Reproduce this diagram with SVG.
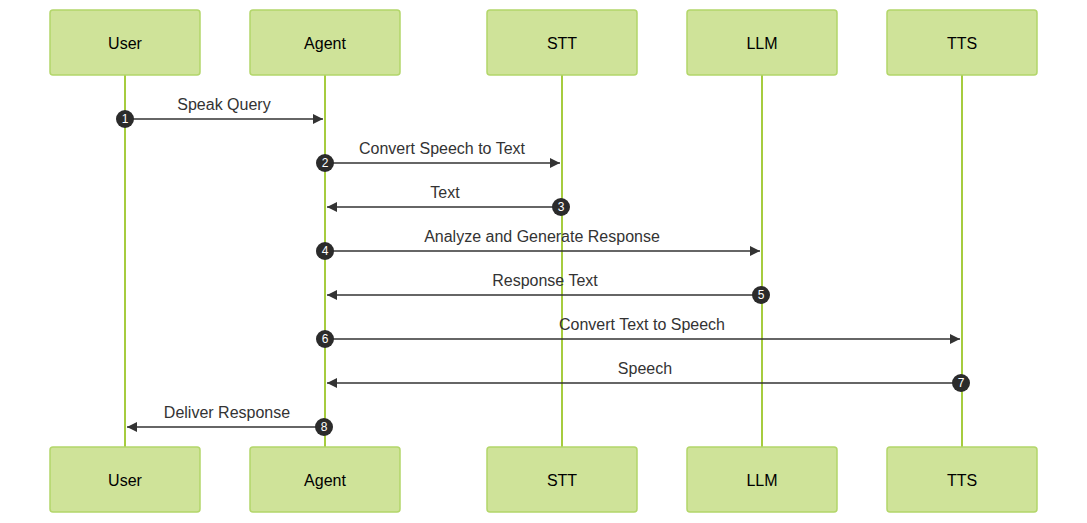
<svg xmlns="http://www.w3.org/2000/svg" width="1087" height="523" viewBox="0 0 1087 523">
<style>
.box{fill:#cfe399;stroke:#b3d66a;stroke-width:1.5}
.life{stroke:#a6cc3f;stroke-width:2}
.t{font-family:"Liberation Sans",Arial,sans-serif;font-size:16px;fill:#000;text-anchor:middle}
.l{font-family:"Liberation Sans",Arial,sans-serif;font-size:16px;fill:#333;text-anchor:middle}
.m{stroke:#333;stroke-width:1.5;fill:none;marker-end:url(#a)}
.c{fill:#2b2b2b}
.n{font-family:"Liberation Sans",Arial,sans-serif;font-size:12px;fill:#fff;text-anchor:middle}
</style>
<defs><marker id="a" viewBox="0 0 10 10" refX="10" refY="5" markerWidth="10" markerHeight="10" markerUnits="userSpaceOnUse" orient="auto"><path d="M0,0 L10,5 L0,10 z" fill="#333"/></marker></defs>
<rect width="1087" height="523" fill="#fff"/>
<g id="lifelines">
<line class="life" x1="125" y1="75" x2="125" y2="447"/>
<line class="life" x1="325" y1="75" x2="325" y2="447"/>
<line class="life" x1="562" y1="75" x2="562" y2="447"/>
<line class="life" x1="762" y1="75" x2="762" y2="447"/>
<line class="life" x1="962" y1="75" x2="962" y2="447"/>
</g>
<g id="user"><rect class="box" x="50" y="10" width="150" height="65" rx="3"/><text class="t" x="125" y="49">User</text><rect class="box" x="50" y="447" width="150" height="65" rx="3"/><text class="t" x="125" y="486">User</text></g>
<g id="agent"><rect class="box" x="250" y="10" width="150" height="65" rx="3"/><text class="t" x="325" y="49">Agent</text><rect class="box" x="250" y="447" width="150" height="65" rx="3"/><text class="t" x="325" y="486">Agent</text></g>
<g id="stt"><rect class="box" x="487" y="10" width="150" height="65" rx="3"/><text class="t" x="562" y="49">STT</text><rect class="box" x="487" y="447" width="150" height="65" rx="3"/><text class="t" x="562" y="486">STT</text></g>
<g id="llm"><rect class="box" x="687" y="10" width="150" height="65" rx="3"/><text class="t" x="762" y="49">LLM</text><rect class="box" x="687" y="447" width="150" height="65" rx="3"/><text class="t" x="762" y="486">LLM</text></g>
<g id="tts"><rect class="box" x="887" y="10" width="150" height="65" rx="3"/><text class="t" x="962" y="49">TTS</text><rect class="box" x="887" y="447" width="150" height="65" rx="3"/><text class="t" x="962" y="486">TTS</text></g>
<g id="connectors">
<line class="m" x1="125" y1="119" x2="323" y2="119"/><text class="l" x="224" y="110">Speak Query</text><circle class="c" cx="125" cy="119" r="9"/><text class="n" x="125" y="123">1</text>
<line class="m" x1="325" y1="163" x2="560" y2="163"/><text class="l" x="442" y="154">Convert Speech to Text</text><circle class="c" cx="325" cy="163" r="9"/><text class="n" x="325" y="167">2</text>
<line class="m" x1="561" y1="207" x2="327" y2="207"/><text class="l" x="445" y="198">Text</text><circle class="c" cx="561" cy="207" r="9"/><text class="n" x="561" y="211">3</text>
<line class="m" x1="325" y1="251" x2="760" y2="251"/><text class="l" x="542" y="242">Analyze and Generate Response</text><circle class="c" cx="325" cy="251" r="9"/><text class="n" x="325" y="255">4</text>
<line class="m" x1="761" y1="295" x2="327" y2="295"/><text class="l" x="545" y="286">Response Text</text><circle class="c" cx="761" cy="295" r="9"/><text class="n" x="761" y="299">5</text>
<line class="m" x1="325" y1="339" x2="960" y2="339"/><text class="l" x="642" y="330">Convert Text to Speech</text><circle class="c" cx="325" cy="339" r="9"/><text class="n" x="325" y="343">6</text>
<line class="m" x1="961" y1="383" x2="327" y2="383"/><text class="l" x="645" y="374">Speech</text><circle class="c" cx="961" cy="383" r="9"/><text class="n" x="961" y="387">7</text>
<line class="m" x1="324" y1="427" x2="127" y2="427"/><text class="l" x="227" y="418">Deliver Response</text><circle class="c" cx="324" cy="427" r="9"/><text class="n" x="324" y="431">8</text>
</g>
</svg>
